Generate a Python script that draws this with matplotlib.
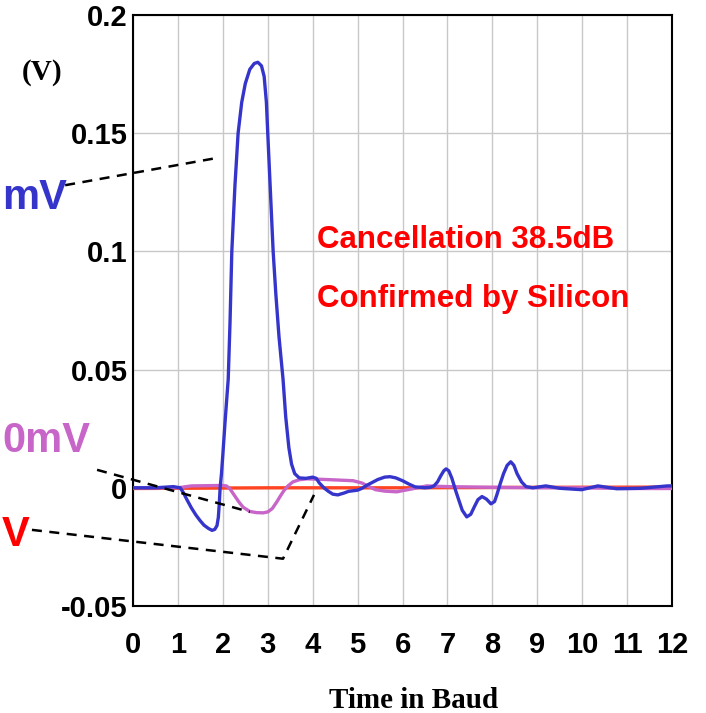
import matplotlib.pyplot as plt

# 블루: 에코 (취소 전)
blue_t = [0, 0.5, 0.9, 1.05, 1.12, 1.2, 1.3, 1.4, 1.49, 1.58, 1.68, 1.76, 1.82, 1.87,
          1.9, 1.92, 1.94, 1.97, 2.0, 2.05, 2.12, 2.16, 2.2, 2.27, 2.34, 2.42, 2.5,
          2.6, 2.7, 2.78, 2.86, 2.92, 2.97, 3.0, 3.06, 3.12, 3.18, 3.25, 3.34, 3.4,
          3.47, 3.53, 3.6, 3.7, 3.85, 4.0, 4.08, 4.15, 4.25, 4.35, 4.45, 4.56, 4.7,
          4.8, 5.0, 5.1, 5.2, 5.3, 5.45, 5.6, 5.72, 5.85, 6.0, 6.15, 6.28, 6.5, 6.62,
          6.7, 6.78, 6.85, 6.92, 6.97, 7.03, 7.1, 7.18, 7.25, 7.33, 7.43, 7.52, 7.6,
          7.68, 7.77, 7.87, 7.97, 8.05, 8.1, 8.18, 8.25, 8.33, 8.41, 8.48, 8.55, 8.65,
          8.75, 8.9, 9.19, 9.5, 9.99, 10.35, 10.77, 11.3, 11.9, 12]
blue_v = [0, 0, 0.0005, 0, -0.002, -0.005, -0.0085, -0.0115, -0.0138, -0.0158, -0.0172,
          -0.018, -0.0176, -0.016, -0.0125, -0.007, 0, 0.006, 0.014, 0.028, 0.046,
          0.07, 0.1, 0.128, 0.15, 0.163, 0.171, 0.177, 0.1795, 0.180, 0.1785, 0.174,
          0.163, 0.15, 0.125, 0.1, 0.082, 0.064, 0.046, 0.03, 0.017, 0.010, 0.006,
          0.0042, 0.004, 0.0045, 0.004, 0.002, 0.0, -0.0015, -0.0027, -0.003, -0.0022,
          -0.0015, -0.001, -0.0002, 0.001, 0.002, 0.0035, 0.0045, 0.0047, 0.0042,
          0.003, 0.0015, 0.0004, 0.0, 0.0002, 0.0008, 0.0025, 0.005, 0.0072, 0.008,
          0.0072, 0.004, -0.001, -0.005, -0.0095, -0.0123, -0.0112, -0.008, -0.005,
          -0.0037, -0.0048, -0.0068, -0.0058, -0.003, 0.002, 0.006, 0.0095, 0.011,
          0.0095, 0.006, 0.0025, 0.0005, 0.0, 0.0008, -0.0002, -0.0008, 0.0008,
          -0.0004, -0.0002, 0.0008, 0.0008]

# 퍼플: 아날로그 취소 후
purple_t = [0, 1.0, 1.3, 2.0, 2.08, 2.16, 2.25, 2.35, 2.45, 2.6, 2.75, 2.9, 3.0, 3.1,
            3.2, 3.28, 3.36, 3.45, 3.56, 3.7, 3.87, 4.3, 4.9, 5.1, 5.25, 5.4, 5.6, 5.87,
            6.2, 6.54, 7.0, 8.0, 9.0, 10.0, 11.0, 12.0]
purple_v = [0, 0, 0.0008, 0.001, 0.0008, -0.0005, -0.003, -0.0058, -0.0082, -0.0100,
            -0.0105, -0.0106, -0.0102, -0.0088, -0.006, -0.0035, -0.0012, 0.0008,
            0.0025, 0.0034, 0.0038, 0.0035, 0.003, 0.002, 0.0005, -0.0008, -0.0014,
            -0.0017, -0.0005, 0.0008, 0.0005, 0.0002, 0.0, 0.0, -0.0003, -0.0003]

# 레드: 실리콘 측정
red_t = [0, 3, 6, 9, 12]
red_v = [-0.0003, 0.0, 0.0, 0.0002, 0.0003]

xticks = list(range(0, 13))
yticks = [-0.05, 0, 0.05, 0.1, 0.15, 0.2]
ytick_labels = ['-0.05', '0', '0.05', '0.1', '0.15', '0.2']

fig = plt.figure(figsize=(7.06, 7.13), dpi=100)
ax = fig.add_axes([133 / 706, 1 - 606 / 713, 539 / 706, 591 / 713])

ax.plot(red_t, red_v, color='#ff4422', lw=2.4, zorder=3)
ax.plot(purple_t, purple_v, color='#c865c8', lw=2.4, zorder=4)
ax.plot(blue_t, blue_v, color='#3535cc', lw=2.4, zorder=5)

ax.set_xlim(0, 12)
ax.set_ylim(-0.05, 0.2)
ax.set_xticks(xticks)
ax.set_yticks(yticks)
ax.set_yticklabels(ytick_labels)
ax.grid(True, color='#c8c8c8', lw=1)
ax.set_axisbelow(True)
ax.tick_params(length=0)
ax.tick_params(axis='x', pad=18)
ax.tick_params(axis='y', pad=4)
for lab in ax.get_xticklabels() + ax.get_yticklabels():
    lab.set_fontfamily('Liberation Sans')
    lab.set_fontweight('bold')
    lab.set_fontsize(21)
for lab in ax.get_yticklabels():
    lab.set_y(lab.get_position()[1])
for sp in ax.spines.values():
    sp.set_color('black')
    sp.set_linewidth(1.5)

# 주석 텍스트
ax.text(4.1, 0.1015, 'Cancellation 38.5dB', color='red', fontsize=22.5,
        fontweight='bold', family='Liberation Sans', va='baseline')
ax.text(4.1, 0.0765, 'Confirmed by Silicon', color='red', fontsize=22.5,
        fontweight='bold', family='Liberation Sans', va='baseline')

fig.text(42 / 706, 1 - 72 / 713, '(V)', ha='center', va='center', fontsize=21,
         fontweight='bold', family='Liberation Serif')
fig.text(414 / 706, 1 - 700 / 713, 'Time in Baud', ha='center', va='center',
         fontsize=21, fontweight='bold', family='Liberation Serif')

# 왼쪽 라벨 (원본에서 잘린 부분만 보임)
fig.text(2 / 706, 1 - 198 / 713, 'mV', ha='left', va='center', fontsize=30,
         fontweight='bold', family='Liberation Sans', color='#3535cc')
fig.text(2 / 706, 1 - 441 / 713, '0mV', ha='left', va='center', fontsize=30,
         fontweight='bold', family='Liberation Sans', color='#c865c8')
fig.text(2 / 706, 1 - 535 / 713, 'V', ha='left', va='center', fontsize=30,
         fontweight='bold', family='Liberation Sans', color='red')

# 점선 지시선 (데이터 좌표, 축 밖으로 연장)
dash = dict(color='black', lw=1.8, ls=(0, (4, 3)), clip_on=False, zorder=6)
ax.plot([-1.51, 1.89], [0.128, 0.1396], **dash)
ax.plot([-0.80, 2.60], [0.0076, -0.0102], **dash)
ax.plot([-2.25, 3.34, 4.03], [-0.0178, -0.030, -0.003], **dash)

fig.savefig('out.png', dpi=100)
